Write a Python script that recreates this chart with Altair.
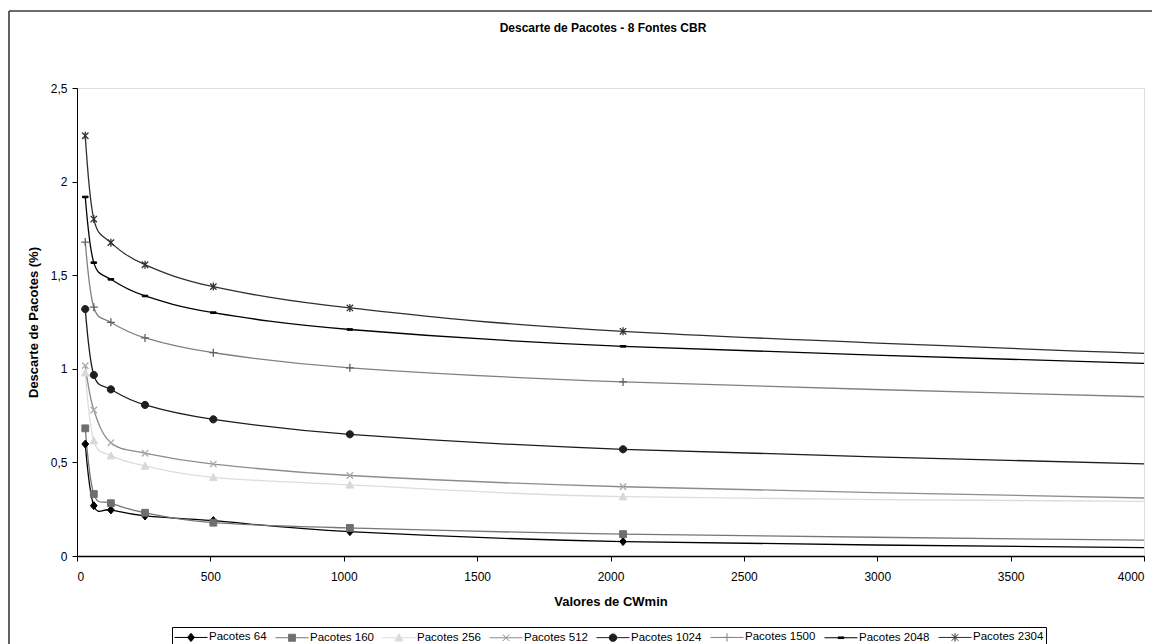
import altair as alt
import pandas as pd

# ---------------- data ----------------
cw_values = [31, 63, 127, 255, 511, 1023, 2047, 4095]
series_names = ["Pacotes 64", "Pacotes 160", "Pacotes 256", "Pacotes 512",
                "Pacotes 1024", "Pacotes 1500", "Pacotes 2048", "Pacotes 2304"]
p64 = [0.598, 0.269, 0.246, 0.214, 0.189, 0.130, 0.077, 0.043]
p160 = [0.682, 0.331, 0.282, 0.231, 0.178, 0.150, 0.117, 0.083]
p256 = [0.979, 0.616, 0.536, 0.481, 0.420, 0.380, 0.317, 0.291]
p512 = [1.017, 0.780, 0.605, 0.549, 0.491, 0.430, 0.370, 0.307]
p1024 = [1.319, 0.967, 0.890, 0.807, 0.730, 0.650, 0.570, 0.489]
p1500 = [1.677, 1.329, 1.248, 1.165, 1.086, 1.005, 0.930, 0.847]
p2048 = [1.918, 1.567, 1.478, 1.389, 1.300, 1.210, 1.120, 1.025]
p2304 = [2.245, 1.800, 1.674, 1.556, 1.439, 1.325, 1.200, 1.077]
all_values = [p64, p160, p256, p512, p1024, p1500, p2048, p2304]

x_ticks = [0, 500, 1000, 1500, 2000, 2500, 3000, 3500, 4000]
y_ticks = [0, 0.5, 1, 1.5, 2, 2.5]

title_text = "Descarte de Pacotes - 8 Fontes CBR"
x_title = "Valores de CWmin"
y_title = "Descarte de Pacotes (%)"

# ---------------- styles ----------------
line_colors = ["#000000", "#767676", "#dcdcdc", "#8c8c8c",
               "#1c1c1c", "#808080", "#000000", "#2e2e2e"]
marker_colors = ["#000000", "#6e6e6e", "#d9d9d9", "#ababab",
                 "#1f1f1f", "#606060", "#000000", "#333333"]
FONT = "Liberation Sans"


def m_diamond(s):
    return f"M0,{-s}L{0.85*s},0L0,{s}L{-0.85*s},0Z"


def m_square(s):
    return f"M{-0.85*s},{-0.85*s}H{0.85*s}V{0.85*s}H{-0.85*s}Z"


def m_triangle(s):
    return f"M0,{-0.95*s}L{0.95*s},{0.8*s}H{-0.95*s}Z"


def m_x(s):
    return f"M{-0.8*s},{-0.8*s}L{0.8*s},{0.8*s}M{-0.8*s},{0.8*s}L{0.8*s},{-0.8*s}"


def m_circle(s):
    r = 0.9 * s
    return f"M{-r},0A{r},{r},0,1,0,{r},0A{r},{r},0,1,0,{-r},0Z"


def m_plus(s):
    return f"M{-s},0H{s}M0,{-s}V{s}"


def m_dash(s):
    return f"M{-0.7*s},{-0.2*s}H{0.7*s}V{0.2*s}H{-0.7*s}Z"


def m_star(s):
    return (f"M{-0.8*s},{-0.8*s}L{0.8*s},{0.8*s}M{-0.8*s},{0.8*s}L{0.8*s},{-0.8*s}"
            f"M0,{-s}V{s}")


marker_fns = [m_diamond, m_square, m_triangle, m_x, m_circle, m_plus, m_dash, m_star]
plot_shapes = [f(1.0) for f in marker_fns]
legend_shapes = ["M-2.2,0H2.2" + f(0.55) for f in marker_fns]

rows = []
for name, vals in zip(series_names, all_values):
    for cw, v in zip(cw_values, vals):
        rows.append({"serie": name, "cw": cw, "descarte": v})
df = pd.DataFrame(rows)

W, H = 1067, 468

x_enc = alt.X("cw:Q",
              scale=alt.Scale(domain=[0, 4000], nice=False, zero=False),
              axis=alt.Axis(values=x_ticks, format="d", title=x_title, grid=False,
                            domainColor="#000", domainWidth=1.6,
                            tickColor="#000", tickSize=5, labelPadding=10,
                            labelFontSize=12, labelColor="#000", labelFont=FONT,
                            titleFontSize=13, titleFontWeight="bold",
                            titleFont=FONT, titleColor="#000",
                            titleX=W / 2, titleY=45, titleBaseline="middle",
                            titleAnchor="middle", titleAlign="center"))
y_enc = alt.Y("descarte:Q",
              scale=alt.Scale(domain=[0, 2.5], nice=False, zero=True),
              axis=alt.Axis(values=y_ticks, title=y_title, grid=False,
                            labelExpr="replace(format(datum.value, '~g'), '.', ',')",
                            domainColor="#000", domainWidth=1,
                            tickColor="#000", tickSize=5, labelPadding=5,
                            labelFontSize=12, labelColor="#000", labelFont=FONT,
                            titleFontSize=13, titleFontWeight="bold",
                            titleFont=FONT, titleColor="#000",
                            titleX=-44, titleY=H / 2, titleAngle=270,
                            titleBaseline="middle", titleAlign="center"))

stroke_scale = alt.Scale(domain=series_names, range=line_colors)
fill_scale = alt.Scale(domain=series_names, range=marker_colors)
shape_scale = alt.Scale(domain=series_names, range=legend_shapes)

leg = alt.Legend(orient="none", legendX=95, legendY=539, direction="horizontal",
                 columns=8, title=None, padding=2, strokeColor="#000",
                 fillColor="#ffffff", symbolSize=225, symbolOffset=9,
                 labelOffset=10, columnPadding=6, labelFontSize=11.5,
                 labelFont=FONT, labelColor="#000", symbolStrokeWidth=1,
                 symbolOpacity=1, labelLimit=0)

frame_top = alt.Chart(alt.Data(values=[{"k": 1}])).mark_rule(
    stroke="#3a3a3a", strokeWidth=1.6, clip=False
).encode(x=alt.value(-68), x2=alt.value(W + 200), y=alt.value(-77))
frame_left = alt.Chart(alt.Data(values=[{"k": 1}])).mark_rule(
    stroke="#3a3a3a", strokeWidth=1.6, clip=False
).encode(x=alt.value(-68), y=alt.value(-77), y2=alt.value(H + 200))

title = alt.Chart(alt.Data(values=[{"t": title_text}])).mark_text(
    font=FONT, fontSize=12, fontWeight="bold", color="#000",
    align="center", baseline="middle"
).encode(x=alt.value(526), y=alt.value(-60), text="t:N")

lines = alt.Chart(df).mark_line(interpolate="cardinal", clip=True, strokeWidth=1.3).encode(
    x=x_enc, y=y_enc,
    stroke=alt.Stroke("serie:N", scale=stroke_scale, legend=leg),
)

point_layers = []
for name, shp, mc in zip(series_names, plot_shapes, marker_colors):
    open_path = shp.count("Z") == 0
    point_layers.append(
        alt.Chart(df).transform_filter(alt.datum.serie == name).mark_point(
            shape=shp, size=64, filled=True, fill=mc, stroke=mc,
            strokeWidth=1.3 if open_path else 1, opacity=1, clip=True
        ).encode(x=x_enc, y=y_enc)
    )

legend_layer = alt.Chart(df).mark_point(filled=True, opacity=0, size=225, strokeWidth=1).encode(
    x=x_enc, y=y_enc,
    color=alt.Color("serie:N", scale=fill_scale, legend=leg),
    stroke=alt.Stroke("serie:N", scale=stroke_scale, legend=leg),
    shape=alt.Shape("serie:N", scale=shape_scale, legend=leg),
)

chart = alt.layer(frame_top, frame_left, lines, *point_layers, legend_layer, title).properties(
    width=W, height=H,
    autosize=alt.AutoSizeParams(type="none"),
    padding={"left": 69, "top": 80, "right": 8, "bottom": 88},
    background="#ffffff",
).configure_view(stroke="#5a5a5a", strokeWidth=1).configure(font=FONT)

chart.save("out.html", embed_options={"renderer": "svg", "actions": False})
